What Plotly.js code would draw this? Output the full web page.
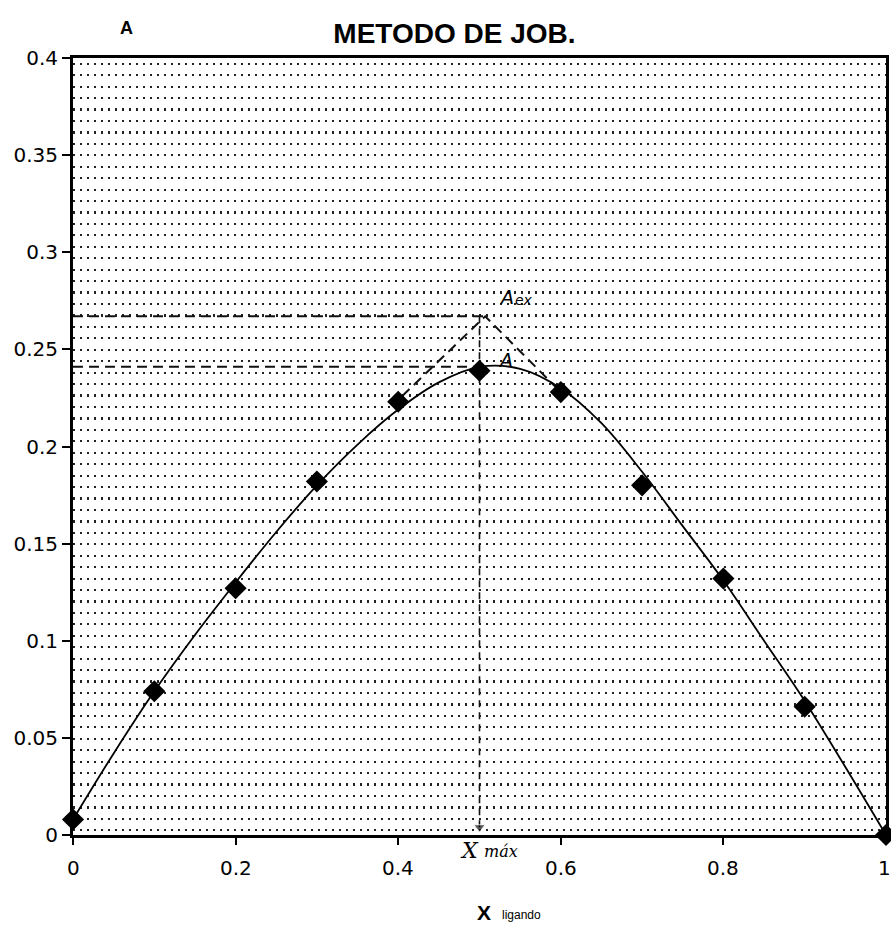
<!DOCTYPE html>
<html>
<head>
<meta charset="utf-8">
<script src="https://cdn.plot.ly/plotly-3.0.1.min.js"></script>
<style>html,body{margin:0;padding:0;background:#fff;}</style>
</head>
<body>
<div id="chart" style="width:891px;height:934px;"></div>
<script>
// Measured points (fraction of ligand vs absorbance)
const xFrac = [0, 0.1, 0.2, 0.3, 0.4, 0.5, 0.6, 0.7, 0.8, 0.9, 1.0];
const absorb = [0.008, 0.074, 0.127, 0.182, 0.223, 0.239, 0.228, 0.180, 0.132, 0.066, 0.0];

// Trend curve
const curveX = [0, 0.05, 0.1, 0.15, 0.2, 0.25, 0.3, 0.35, 0.4, 0.45, 0.5, 0.55, 0.6, 0.65, 0.7, 0.75, 0.8, 0.85, 0.9, 0.95, 1.0];
const curveY = [0.008, 0.042, 0.074, 0.103, 0.130, 0.156, 0.180, 0.201, 0.219, 0.233, 0.241, 0.240, 0.230, 0.212, 0.187, 0.159, 0.131, 0.100, 0.069, 0.035, 0.0];

// Construction lines (extrapolated maximum)
const tangentX = [0.405, 0.507, 0.6];
const tangentY = [0.226, 0.267, 0.228];
const aexLineX = [0, 0.507];
const aexLineY = [0.267, 0.267];
const aLineX = [0, 0.5];
const aLineY = [0.241, 0.241];
const vertX = [0.5, 0.5];
const vertY = [0.267, 0.004];

const xTicks = [0, 0.2, 0.4, 0.6, 0.8, 1];
const xTickText = ['0', '0.2', '0.4', '0.6', '0.8', '1'];
const yTicks = [0, 0.05, 0.1, 0.15, 0.2, 0.25, 0.3, 0.35, 0.4];
const yTickText = ['0', '0.05', '0.1', '0.15', '0.2', '0.25', '0.3', '0.35', '0.4'];

const dashStyle = '10px,6px';
const tickFontFamily = 'DejaVu Sans, Liberation Sans, sans-serif';

const traces = [
  {x: aexLineX, y: aexLineY, mode: 'lines', line: {color: '#111', width: 2, dash: dashStyle}, hoverinfo: 'skip'},
  {x: aLineX, y: aLineY, mode: 'lines', line: {color: '#111', width: 2, dash: dashStyle}, hoverinfo: 'skip'},
  {x: tangentX, y: tangentY, mode: 'lines', line: {color: '#111', width: 2, dash: dashStyle}, hoverinfo: 'skip'},
  {x: vertX, y: vertY, mode: 'lines+markers', line: {color: '#111', width: 1.6, dash: '7px,5px'},
   marker: {symbol: ['line-ew', 'triangle-down'], size: [0, 10], color: '#111'}, hoverinfo: 'skip'},
  {x: curveX, y: curveY, mode: 'lines', line: {color: '#000', width: 1.8, shape: 'spline', smoothing: 1.0}, hoverinfo: 'skip'},
  {x: xFrac, y: absorb, mode: 'markers', marker: {symbol: 'diamond', size: 17, color: '#000'}, cliponaxis: false}
];

// x tick labels placed as annotations, built from the tick arrays
const xTickAnnotations = xTicks.map((v, i) => ({
  text: xTickText[i], xref: 'x', yref: 'paper', x: v, y: 0, xanchor: 'center', yanchor: 'middle',
  xshift: (i === xTicks.length - 1) ? -2 : 0,
  yshift: -33, showarrow: false, font: {family: tickFontFamily, size: 20, color: '#000'}
}));

const layout = {
  width: 891, height: 934,
  margin: {l: 73, r: 5, t: 58, b: 99},
  paper_bgcolor: '#fff', plot_bgcolor: '#fff',
  showlegend: false,
  font: {family: 'Liberation Sans, Arial, sans-serif', color: '#000', size: 19},
  title: {text: '<b>METODO DE JOB.</b>', xref: 'container', x: 0.51, xanchor: 'center', y: 0.964, yanchor: 'middle',
          font: {family: 'Liberation Sans, Arial, sans-serif', size: 28, color: '#000'}},
  xaxis: {
    range: [0, 1], tickmode: 'array', tickvals: xTicks, ticktext: xTickText,
    showticklabels: false,
    showgrid: false, zeroline: false,
    showline: true, mirror: true, linecolor: '#000', linewidth: 3,
    ticks: 'outside', ticklen: 7, tickwidth: 2, tickcolor: '#000'
  },
  yaxis: {
    range: [0, 0.4], tickmode: 'array', tickvals: yTicks, ticktext: yTickText,
    showgrid: false, zeroline: false,
    showline: true, mirror: true, linecolor: '#000', linewidth: 3,
    ticks: 'outside', ticklen: 8, tickwidth: 2, tickcolor: '#000',
    tickfont: {family: tickFontFamily, size: 20},
    minor: {tick0: 0.0083, dtick: 0.00589, showgrid: true, gridcolor: '#222', gridwidth: 2.2, griddash: '2.2px,4.8px', ticks: ''}
  },
  annotations: xTickAnnotations.concat([
    {text: '<b>A</b>', xref: 'paper', yref: 'paper', x: 0.066, y: 1.038, xanchor: 'center', yanchor: 'middle',
     showarrow: false, font: {size: 18}},
    {text: '<i>A</i>', xref: 'x', yref: 'y', x: 0.522, y: 0.277, xanchor: 'left', yanchor: 'middle',
     showarrow: false, font: {family: 'DejaVu Sans, sans-serif', size: 19}},
    {text: '<i>ex</i>', xref: 'x', yref: 'y', x: 0.541, y: 0.2755, xanchor: 'left', yanchor: 'middle',
     showarrow: false, font: {family: 'DejaVu Sans, sans-serif', size: 14}},
    {text: '<i>A</i>', xref: 'x', yref: 'y', x: 0.52, y: 0.2445, xanchor: 'left', yanchor: 'middle',
     showarrow: false, font: {family: 'DejaVu Sans, sans-serif', size: 19}},
    {text: '<i>X</i>', xref: 'x', yref: 'y', x: 0.488, y: 0, xanchor: 'center', yanchor: 'top',
     yshift: -1, showarrow: false, font: {family: 'DejaVu Serif, serif', size: 22}},
    {text: '<i>máx</i>', xref: 'x', yref: 'y', x: 0.503, y: 0, xanchor: 'left', yanchor: 'top',
     yshift: -5, showarrow: false, font: {family: 'DejaVu Serif, serif', size: 16}},
    {text: '<b>X</b>', xref: 'x', yref: 'paper', x: 0.505, y: 0, xanchor: 'center', yanchor: 'middle',
     yshift: -77, showarrow: false, font: {family: 'Liberation Sans, Arial, sans-serif', size: 21}},
    {text: 'ligando', xref: 'x', yref: 'paper', x: 0.525, y: 0, xanchor: 'left', yanchor: 'middle',
     yshift: -80, showarrow: false, font: {family: 'Liberation Sans, Arial, sans-serif', size: 12}}
  ])
};

Plotly.newPlot('chart', traces, layout, {staticPlot: true, displayModeBar: false});
</script>
</body>
</html>
